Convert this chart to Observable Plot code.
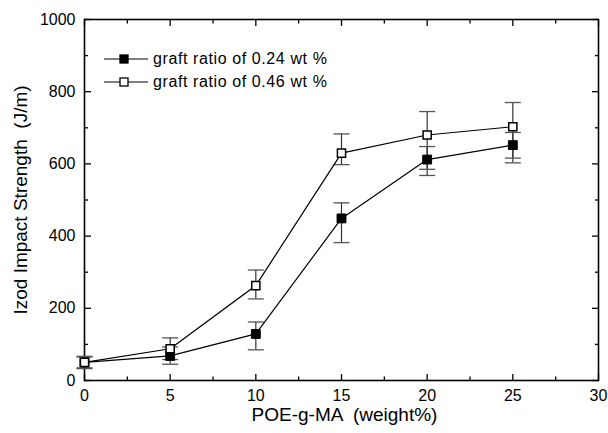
<!DOCTYPE html>
<html>
<head>
<meta charset="utf-8">
<script src="https://cdn.jsdelivr.net/npm/d3@7"></script>
<script src="https://cdn.jsdelivr.net/npm/@observablehq/plot@0.6"></script>
<style>
  body { margin: 0; background: #fff; }
  #wrap { position: relative; width: 608px; height: 433px; font-family: "Liberation Sans", Arial, sans-serif; }
  .leg { position: absolute; left: 0; top: 0; font-size: 16px; letter-spacing: 0.6px; color: #000; }
  .row { position: absolute; white-space: nowrap; }
</style>
</head>
<body>
<div id="wrap"></div>
<script>
// Data
const loading = [0, 5, 10, 15, 20, 25];                // POE-g-MA (weight%)
const low024  = [50, 68, 129, 449, 612, 652];           // graft ratio 0.24 wt %
const low024Lo = [33, 45, 85, 382, 585, 616];
const low024Hi = [67, 93, 162, 492, 648, 687];
const high046  = [50, 88, 263, 630, 680, 703];          // graft ratio 0.46 wt %
const high046Lo = [35, 58, 226, 598, 568, 603];
const high046Hi = [65, 118, 306, 683, 745, 770];
const seriesNames = ["graft ratio of 0.24 wt %", "graft ratio of 0.46 wt %"];
const xTicks = [0, 5, 10, 15, 20, 25, 30];
const xMinor = [2.5, 7.5, 12.5, 17.5, 22.5, 27.5];
const yTicks = [0, 200, 400, 600, 800, 1000];
const yMinor = [100, 300, 500, 700, 900];

const rows = [];
loading.forEach((x, i) => {
  rows.push({s: seriesNames[0], x, y: low024[i], lo: low024Lo[i], hi: low024Hi[i]});
});
loading.forEach((x, i) => {
  rows.push({s: seriesNames[1], x, y: high046[i], lo: high046Lo[i], hi: high046Hi[i]});
});
const s1 = rows.filter(d => d.s === seriesNames[0]);
const s2 = rows.filter(d => d.s === seriesNames[1]);

const capSymbol = { draw(ctx) { ctx.moveTo(-8, 0); ctx.lineTo(8, 0); } };

const font = "Liberation Sans, Arial, sans-serif";
const tk = { text: null, label: null, strokeWidth: 1.3 };
const chart = Plot.plot({
  width: 608, height: 433,
  marginLeft: 84, marginRight: 10, marginTop: 19, marginBottom: 53,
  style: { fontFamily: font, fontSize: "15px", color: "#000", background: "#fff" },
  x: { domain: [0, 30] },
  y: { domain: [0, 1000] },
  marks: [
    // tick labels
    Plot.axisX({ ticks: xTicks, tickSize: 0, tickPadding: 9, fontSize: 16, letterSpacing: 0.3, label: null }),
    Plot.axisY({ ticks: yTicks, tickSize: 0, tickPadding: 9, fontSize: 16, letterSpacing: 0.3, label: null, tickFormat: d3.format("d") }),
    // inward ticks on all four sides
    Plot.axisX({ anchor: "bottom", ticks: xTicks, tickSize: -6, ...tk }),
    Plot.axisX({ anchor: "bottom", ticks: xMinor, tickSize: -3.5, ...tk }),
    Plot.axisX({ anchor: "top", ticks: xTicks, tickSize: -6, ...tk }),
    Plot.axisX({ anchor: "top", ticks: xMinor, tickSize: -3.5, ...tk }),
    Plot.axisY({ anchor: "left", ticks: yTicks, tickSize: -7, ...tk }),
    Plot.axisY({ anchor: "left", ticks: yMinor, tickSize: -4, ...tk }),
    Plot.axisY({ anchor: "right", ticks: yTicks, tickSize: -7, ...tk }),
    Plot.axisY({ anchor: "right", ticks: yMinor, tickSize: -4, ...tk }),
    Plot.frame({ stroke: "#000", strokeWidth: 1.6 }),
    // error bars
    Plot.ruleX(rows, { x: "x", y1: "lo", y2: "hi", stroke: "#333", strokeWidth: 1.2 }),
    Plot.dot(rows, { x: "x", y: "lo", symbol: capSymbol, stroke: "#555", strokeWidth: 1.3, r: 3 }),
    Plot.dot(rows, { x: "x", y: "hi", symbol: capSymbol, stroke: "#555", strokeWidth: 1.3, r: 3 }),
    // lines
    Plot.line(s1, { x: "x", y: "y", stroke: "#000", strokeWidth: 1.2 }),
    Plot.line(s2, { x: "x", y: "y", stroke: "#000", strokeWidth: 1.2 }),
    // markers
    Plot.dot(s1, { x: "x", y: "y", symbol: "square", r: 5, fill: "#000", stroke: "#000", strokeWidth: 1 }),
    Plot.dot(s2, { x: "x", y: "y", symbol: "square", r: 4.6, fill: "#fff", stroke: "#000", strokeWidth: 1.5 }),
    // axis titles
    Plot.text(["Izod Impact Strength  (J/m)"], { frameAnchor: "left", dx: -64, rotate: -90, textAnchor: "middle", lineAnchor: "middle", text: d => d, fontSize: 19, letterSpacing: 1.3 }),
    Plot.text(["POE-g-MA  (weight%)"], { frameAnchor: "bottom", dy: 34, dx: 3, lineAnchor: "middle", text: d => d, fontSize: 19, letterSpacing: 1 })
  ]
});
const wrap = document.getElementById("wrap");
wrap.appendChild(chart);

// legend overlay
const leg = document.createElement("div");
leg.className = "leg";
const legendItems = [
  { name: seriesNames[0], fill: "#000", top: 59 },
  { name: seriesNames[1], fill: "#fff", top: 82 }
];
legendItems.forEach(it => {
  const r = document.createElement("div");
  r.className = "row";
  r.style.left = "104px";
  r.style.top = (it.top - 10) + "px";
  r.innerHTML =
    `<svg width="46" height="20" style="vertical-align:middle;overflow:visible">
       <line x1="0" y1="10" x2="44" y2="10" stroke="#000" stroke-width="1.2"/>
       <rect x="16" y="6" width="8" height="8" fill="${it.fill}" stroke="#000" stroke-width="1.3"/>
     </svg><span style="position:relative;left:3px;top:1px">${it.name}</span>`;
  leg.appendChild(r);
});
wrap.appendChild(leg);
</script>
</body>
</html>
